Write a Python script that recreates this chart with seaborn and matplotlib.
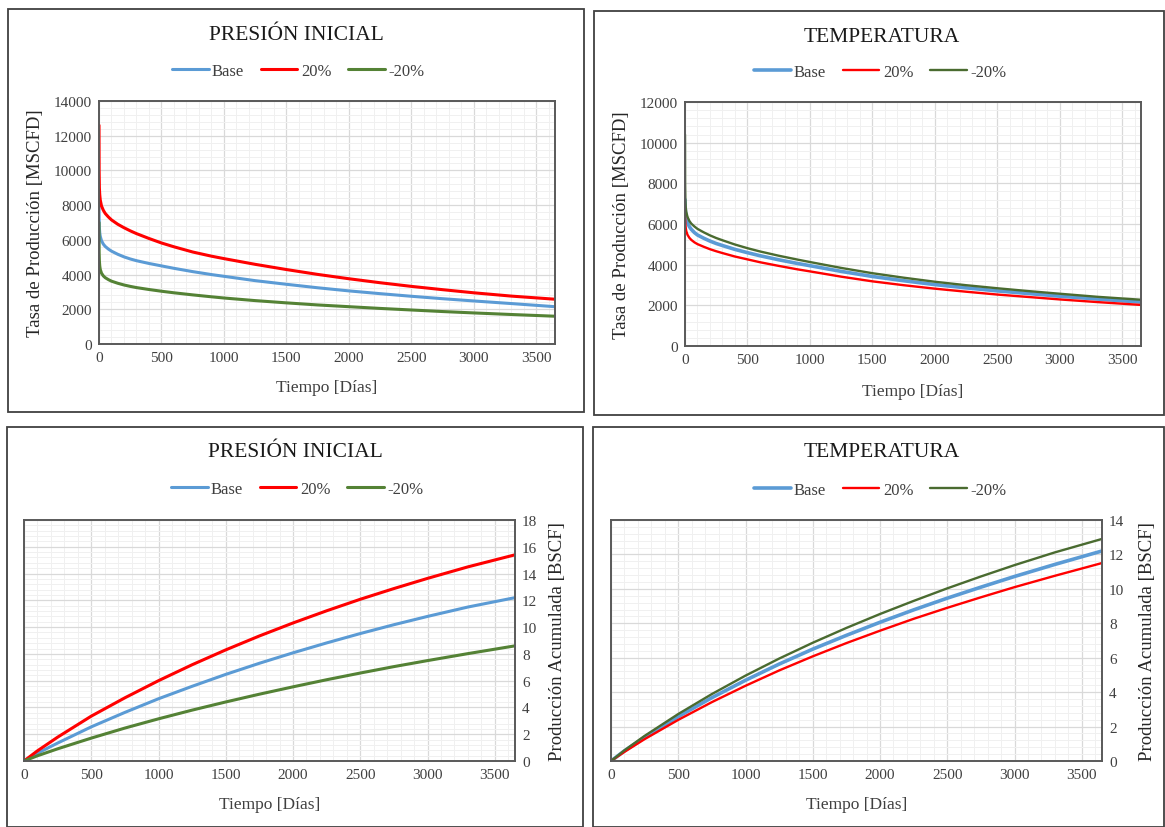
import matplotlib
matplotlib.use("Agg")
import matplotlib.pyplot as plt
from matplotlib.patches import Rectangle
from matplotlib.ticker import MultipleLocator, AutoMinorLocator
import seaborn as sns

# Data
t_rate = [0, 1, 3, 6, 10, 20, 35, 50, 75, 100, 150, 200, 250, 300, 400, 500, 600, 750,
          900, 1000, 1250, 1500, 1750, 2000, 2250, 2500, 2750, 3000, 3300, 3650]

# Presion inicial - tasa [MSCFD]
pi_base = [8200, 7200, 6700, 6400, 6200, 5950, 5750, 5620, 5470, 5350, 5170, 5020, 4900, 4800,
           4640, 4500, 4360, 4170, 4000, 3900, 3650, 3440, 3240, 3060, 2900, 2750, 2610, 2480,
           2330, 2150]
pi_up = [12600, 10000, 9000, 8600, 8300, 7950, 7700, 7520, 7320, 7150, 6900, 6700, 6520, 6360,
         6080, 5820, 5600, 5300, 5060, 4920, 4590, 4290, 4010, 3760, 3530, 3320, 3130, 2950,
         2760, 2580]
pi_down = [7000, 5300, 4800, 4500, 4300, 4080, 3920, 3820, 3710, 3620, 3500, 3400, 3320, 3250,
           3140, 3040, 2950, 2830, 2720, 2650, 2500, 2370, 2250, 2150, 2050, 1960, 1870, 1790,
           1700, 1600]

# Temperatura - tasa [MSCFD]
te_base = [7200, 6900, 6650, 6450, 6300, 6060, 5870, 5740, 5580, 5460, 5300, 5160, 5040, 4940,
           4750, 4590, 4440, 4240, 4060, 3950, 3670, 3420, 3210, 3020, 2860, 2710, 2580, 2450,
           2310, 2160]
te_up = [6800, 6300, 6000, 5800, 5650, 5470, 5320, 5220, 5100, 5010, 4880, 4760, 4660, 4570,
         4400, 4260, 4120, 3940, 3770, 3670, 3410, 3180, 2990, 2820, 2670, 2530, 2410, 2290,
         2160, 2020]
te_down = [10400, 8000, 7200, 6800, 6600, 6350, 6150, 6020, 5880, 5760, 5590, 5440, 5310, 5200,
           4990, 4810, 4650, 4440, 4250, 4130, 3840, 3580, 3360, 3160, 2990, 2840, 2700, 2570,
           2420, 2275]

t_cum = [0, 100, 250, 500, 750, 1000, 1250, 1500, 1750, 2000, 2250, 2500, 2750, 3000, 3300, 3650]

# Produccion acumulada [BSCF]
pi_cum_base = [0, 0.58, 1.34, 2.55, 3.63, 4.65, 5.58, 6.47, 7.3, 8.08, 8.82, 9.52, 10.18, 10.8,
               11.5, 12.2]
pi_cum_up = [0, 0.76, 1.78, 3.35, 4.72, 6.0, 7.19, 8.3, 9.34, 10.31, 11.22, 12.08, 12.88, 13.64,
             14.5, 15.4]
pi_cum_down = [0, 0.39, 0.91, 1.71, 2.46, 3.15, 3.8, 4.41, 4.99, 5.54, 6.07, 6.57, 7.05, 7.5,
               8.02, 8.6]

te_cum_base = [0, 0.59, 1.38, 2.58, 3.68, 4.69, 5.63, 6.5, 7.3, 8.06, 8.78, 9.46, 10.1, 10.72,
               11.42, 12.2]
te_cum_up = [0, 0.53, 1.27, 2.39, 3.42, 4.37, 5.26, 6.08, 6.85, 7.57, 8.26, 8.9, 9.51, 10.1,
             10.76, 11.5]
te_cum_down = [0, 0.62, 1.46, 2.73, 3.89, 4.96, 5.95, 6.87, 7.73, 8.54, 9.3, 10.03, 10.72, 11.38,
               12.12, 12.9]

series_labels = ["Base", "20%", "-20%"]

# Style
sns.set_style("white")
plt.rcParams["font.family"] = ["Liberation Serif", "DejaVu Serif"]

W, H = 1165, 828
fig = plt.figure(figsize=(W / 100, H / 100), dpi=100)


def px_axes(left, top, right, bottom):
    return fig.add_axes([left / W, 1 - bottom / H, (right - left) / W, (bottom - top) / H])


def frame(left, top, right, bottom):
    fig.patches.append(Rectangle((left / W, 1 - bottom / H), (right - left) / W, (bottom - top) / H,
                                 transform=fig.transFigure, fill=False, edgecolor="#404040", lw=1.3))


def style_axis(ax, ymax, ystep):
    ax.set_xlim(0, 3650)
    ax.set_ylim(0, ymax)
    ax.xaxis.set_major_locator(MultipleLocator(500))
    ax.yaxis.set_major_locator(MultipleLocator(ystep))
    ax.xaxis.set_minor_locator(AutoMinorLocator(5))
    ax.yaxis.set_minor_locator(AutoMinorLocator(5))
    ax.grid(which="major", color="#D9D9D9", lw=0.9)
    ax.grid(which="minor", color="#F0F0F0", lw=0.7)
    ax.set_axisbelow(True)
    ax.tick_params(which="both", length=0, labelsize=11, colors="#404040", pad=5)
    for s in ax.spines.values():
        s.set_color("#595959")
        s.set_linewidth(1.4)


def panel(ax, t, ys, colors, widths, title, title_xy, leg_xy, ymax, ystep, right=False):
    for y, c, w, lab in zip(ys, colors, widths, series_labels):
        sns.lineplot(x=t, y=y, ax=ax, color=c, lw=w, label=lab)
    style_axis(ax, ymax, ystep)
    ax.set_xlabel("Tiempo [Días]", fontsize=12.5, color="#404040")
    if right:
        ax.yaxis.tick_right()
        ax.yaxis.set_label_position("right")
        ax.set_ylabel("Producción Acumulada [BSCF]", fontsize=13.5, color="#262626")
    else:
        ax.set_ylabel("Tasa de Producción [MSCFD]", fontsize=13.5, color="#262626")
    fig.text(title_xy[0] / W, 1 - title_xy[1] / H, title, ha="center", va="center",
             fontsize=15.5, color="#1a1a1a")
    ax.legend(loc="center", bbox_to_anchor=(leg_xy[0] / W, 1 - leg_xy[1] / H),
              bbox_transform=fig.transFigure, ncol=3, frameon=False, fontsize=12,
              handlelength=2.2, handletextpad=0.2, columnspacing=1.0,
              labelcolor="#404040")


blue = "#5B9BD5"
red = "#FF0000"
green_pi = "#548235"
green_te = "#4A6B30"

# Top-left: presion inicial, tasa
frame(8, 10, 584, 413)
ax1 = px_axes(99, 102, 555, 345)
panel(ax1, t_rate, [pi_base, pi_up, pi_down], [blue, red, green_pi], [2.2, 2.2, 2.2],
      "PRESIÓN INICIAL", (296, 35), (298, 72), 14000, 2000)
ax1.xaxis.set_label_coords(0.5, -0.145)
ax1.yaxis.set_label_coords(-0.12, 0.5)

# Top-right: temperatura, tasa
frame(594, 12, 1164, 416)
ax2 = px_axes(685, 103, 1141, 347)
panel(ax2, t_rate, [te_base, te_up, te_down], [blue, red, green_te], [2.6, 1.7, 1.7],
      "TEMPERATURA", (882, 37), (880, 73), 12000, 2000)
ax2.xaxis.set_label_coords(0.5, -0.15)
ax2.yaxis.set_label_coords(-0.12, 0.5)

# Bottom-left: presion inicial, acumulada
frame(7, 428, 583, 828)
ax3 = px_axes(24, 521, 515, 762)
panel(ax3, t_cum, [pi_cum_base, pi_cum_up, pi_cum_down], [blue, red, green_pi], [2.2, 2.2, 2.2],
      "PRESIÓN INICIAL", (295, 453), (297, 490), 18, 2, right=True)
ax3.xaxis.set_label_coords(0.5, -0.145)
ax3.yaxis.set_label_coords(1.07, 0.5)

# Bottom-right: temperatura, acumulada
frame(593, 428, 1164, 828)
ax4 = px_axes(611, 521, 1102, 762)
panel(ax4, t_cum, [te_cum_base, te_cum_up, te_cum_down], [blue, red, green_te], [2.6, 1.7, 1.7],
      "TEMPERATURA", (882, 453), (880, 491), 14, 2, right=True)
ax4.xaxis.set_label_coords(0.5, -0.145)
ax4.yaxis.set_label_coords(1.075, 0.5)

fig.savefig("out.png", dpi=100, facecolor="white")
